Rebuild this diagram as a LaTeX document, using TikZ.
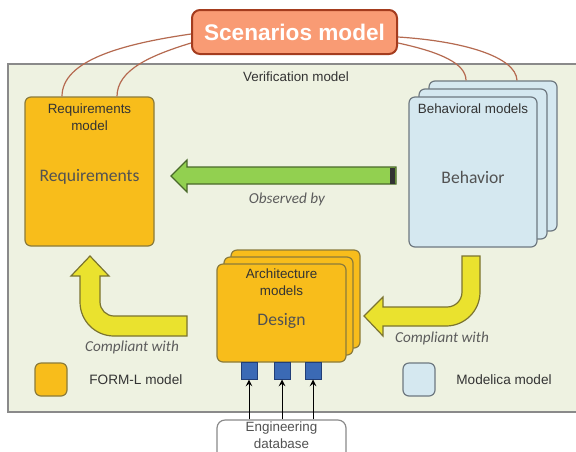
\documentclass[tikz,border=0pt]{standalone}
\usepackage{fontspec}
\setmainfont{Liberation Sans}
\newfontfamily\calib{Carlito}
\usepackage{tikz}
\usetikzlibrary{calc, positioning}

\definecolor{verifbg}{HTML}{EEF2E1}
\definecolor{verifline}{HTML}{8A8A8A}
\definecolor{scenfill}{HTML}{F99B74}
\definecolor{scenline}{HTML}{A43C1E}
\definecolor{linkline}{HTML}{B56A50}
\definecolor{formfill}{HTML}{F8BD1B}
\definecolor{formline}{HTML}{8B7B3A}
\definecolor{modfill}{HTML}{D5E8F0}
\definecolor{modline}{HTML}{6E7880}
\definecolor{obsfill}{HTML}{92D050}
\definecolor{obsline}{HTML}{4A6A2A}
\definecolor{compfill}{HTML}{EAE22E}
\definecolor{compline}{HTML}{7B7430}
\definecolor{portfill}{HTML}{3B6AB5}
\definecolor{portline}{HTML}{223F77}
\definecolor{txtgray}{HTML}{333333}

\begin{document}
\begin{tikzpicture}[>=stealth, x=0.5pt, y=-0.5pt,
    formbox/.style={draw=formline, fill=formfill, rounded corners=3pt, line width=0.6pt, inner sep=0pt},
    modbox/.style={draw=modline, fill=modfill, rounded corners=3pt, line width=0.6pt, inner sep=0pt},
    lbl/.style={inner sep=0pt, align=center, text=txtgray, font=\fontsize{6.7}{8.5}\selectfont},
    big/.style={inner sep=0pt, text=txtgray!85, font=\calib\fontsize{8.8}{10}\selectfont},
    note/.style={inner sep=0pt, text=txtgray!80, font=\calib\itshape\fontsize{7.6}{9}\selectfont},
    link/.style={draw=linkline, line width=0.6pt}]

    % =================================================================
    % 1. FRAME OF THE VERIFICATION MODEL
    % =================================================================
    \clip (0,0) rectangle (576,451);
    \fill[white] (0,0) rectangle (576,451);
    \draw[fill=verifbg, draw=verifline, line width=0.8pt] (8,64) rectangle (600,412);
    \node[lbl] (veriflbl) at (296,77) {Verification model};

    % =================================================================
    % 2. THE MODEL BOXES
    % =================================================================
    \node[draw=scenline, fill=scenfill, rounded corners=4pt, line width=1pt,
          minimum width=102.5pt, minimum height=22pt, inner sep=0pt,
          text=white, font=\bfseries\fontsize{11.3}{12}\selectfont] (scen) at (294.5,32) {Scenarios model};

    % requirements
    \node[formbox, minimum width=64.5pt, minimum height=74.5pt] (req) at (89.5,171.5) {};
    \node[lbl, below=3.5pt of req.north] (reqlbl) {Requirements\\model};
    \node[big] (reqtxt) at ($(req.center)+(0,5.5)$) {Requirements};

    % behavioral models (stack of three)
    \node[modbox, minimum width=64pt, minimum height=75pt] (behback) at (493,156) {};
    \node[modbox, minimum width=64pt, minimum height=75pt] (behmid) at (483,164) {};
    \node[modbox, minimum width=64pt, minimum height=75pt] (beh) at (473,172) {};
    \node[lbl, below=3.5pt of beh.north] (behlbl) {Behavioral models};
    \node[big] (behtxt) at ($(beh.center)+(0,5)$) {Behavior};

    % architecture models (stack of three)
    \node[formbox, minimum width=64.5pt, minimum height=49pt] (archback) at (295.5,299) {};
    \node[formbox, minimum width=64.5pt, minimum height=49pt] (archmid) at (288.5,306) {};
    \node[formbox, minimum width=64.5pt, minimum height=49pt] (arch) at (281.5,313) {};
    \node[lbl, below=2.5pt of arch.north] (archlbl) {Architecture\\models};
    \node[big] (archtxt) at ($(arch.center)+(0,8)$) {Design};

    % ports and engineering database
    \tikzset{port/.style={draw=portline, fill=portfill, line width=0.5pt, minimum width=8pt, minimum height=8.5pt, inner sep=0pt}}
    \node[port] (p1) at (249,370.5) {};
    \node[port] (p2) at (282,370.5) {};
    \node[port] (p3) at (313,370.5) {};
    \node[draw=verifline, fill=white, rounded corners=4pt, line width=0.6pt,
          minimum width=64.5pt, minimum height=20pt, inner sep=0pt] (db) at (281.5,440) {};
    \foreach \p in {p1, p2, p3}
        \draw[->, line width=0.5pt] (\p |- db.north) -- (\p.south);
    \node[lbl, text=txtgray!85] (dbtxt) at (281.5,435) {Engineering\\database};

    % =================================================================
    % 3. LINKS FROM THE SCENARIOS MODEL
    % =================================================================
    \draw[link] ($(scen.west)+(0,2)$) .. controls (122,44) and ($(req.north)+(-27.5,-36)$) .. ($(req.north)+(-27.5,0)$);
    \draw[link] ($(scen.west)+(0,11)$) .. controls (152,55) and ($(req.north)+(27.5,-27)$) .. ($(req.north)+(27.5,0)$);
    \draw[link] ($(scen.east)+(0,5)$) .. controls (462,41) and ($(behback.north)+(23,-24)$) .. ($(behback.north)+(24,0)$);
    \draw[link] ($(scen.east)+(0,11)$) .. controls (440,52) and ($(behback.north)+(-27,-17)$) .. ($(behback.north)+(-27,0)$);

    % =================================================================
    % 4. BIG ARROWS
    % =================================================================
    % observed by
    \draw[fill=obsfill, draw=obsline, line width=0.6pt]
        (171,176) -- (187,160) -- (187,167) -- (396,167) -- (396,184)
        -- (187,184) -- (187,192) -- cycle;
    \fill[black!80] (390,167.5) rectangle (394.5,183.5);
    \node[note] (obs) at (287,199) {Observed by};

    % compliant with (left)
    \draw[fill=compfill, draw=compline, line width=0.6pt]
        (90,256) -- (109,276) -- (100,276) -- (100,302)
        .. controls (100,309.7) and (106.3,316) .. (114,316) -- (187,316) -- (187,336)
        -- (114,336) .. controls (95.2,336) and (80,320.8) .. (80,302)
        -- (80,276) -- (71,276) -- cycle;
    \node[note] (compl) at (132,347) {Compliant with};

    % compliant with (right)
    \draw[fill=compfill, draw=compline, line width=0.6pt]
        (462,256) -- (480,256) -- (480,292)
        .. controls (480,310.8) and (464.8,326) .. (446,326) -- (383,326) -- (383,336)
        -- (364,316) -- (383,297) -- (383,307) -- (447,307)
        .. controls (455.3,307) and (462,300.3) .. (462,292) -- cycle;
    \node[note] (compr) at (442,338) {Compliant with};

    % =================================================================
    % 5. LEGEND
    % =================================================================
    \node[formbox, minimum width=16pt, minimum height=16.5pt] (formkey) at (51,379.5) {};
    \node[lbl, anchor=west, font=\fontsize{6.8}{8}\selectfont] (formtxt) at (89,380) {FORM-L model};
    \node[modbox, minimum width=16pt, minimum height=16.5pt] (modkey) at (419,379.5) {};
    \node[lbl, anchor=west, font=\fontsize{6.8}{8}\selectfont] (modtxt) at (456,380) {Modelica model};

\end{tikzpicture}
\end{document}
